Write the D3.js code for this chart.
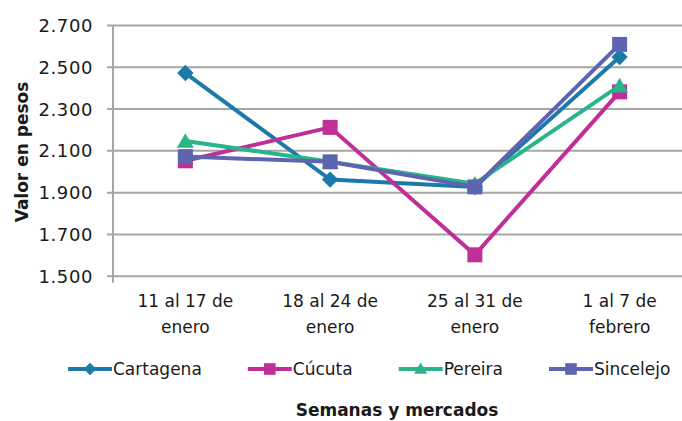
<!DOCTYPE html>
<html>
<head>
<meta charset="utf-8">
<script src="https://cdn.jsdelivr.net/npm/d3@7"></script>
<style>
  html, body { margin: 0; padding: 0; background: #fff; overflow: hidden; }
  svg { display: block; }
  text { font-family: "DejaVu Sans", sans-serif; fill: #1a1a1a; }
</style>
</head>
<body>
<svg id="chart" width="682" height="421"></svg>
<script>
// ---- data ----
const weeks = [["11 al 17 de", "enero"], ["18 al 24 de", "enero"], ["25 al 31 de", "enero"], ["1 al 7 de", "febrero"]];
const cartagena = [2470, 1960, 1925, 2547];
const cucuta = [2050, 2210, 1600, 2380];
const pereira = [2145, 2045, 1940, 2410];
const sincelejo = [2070, 2045, 1925, 2607];
const seriesNames = ["Cartagena", "Cúcuta", "Pereira", "Sincelejo"];
const yTicks = [1500, 1700, 1900, 2100, 2300, 2500, 2700];
const yTitle = "Valor en pesos";
const xTitle = "Semanas y mercados";

const seriesValues = [cartagena, cucuta, pereira, sincelejo];
const colors = ["#1c7aa9", "#bf2f95", "#29b48b", "#5f64b0"];
const shapes = ["diamond", "square", "triangle", "square"];

const svg = d3.select("#chart");
const plot = { left: 113, right: 692, top: 25, bottom: 275.7 };

const weekKeys = weeks.map(w => w.join(" "));
const x = d3.scaleBand().domain(weekKeys).range([plot.left, plot.right]).paddingInner(0).paddingOuter(0);
const xc = k => x(k) + x.bandwidth() / 2;
const y = d3.scaleLinear().domain([1500, 2700]).range([plot.bottom, plot.top]);

const loc = d3.formatLocale({ decimal: ",", thousands: ".", grouping: [3], currency: ["$", ""] });
const fmt = loc.format(",.0f");

const grid = "#a6a6a6";

// gridlines + y axis via d3.axisLeft
const yAxis = d3.axisLeft(y).tickValues(yTicks).tickFormat(fmt)
  .tickSizeInner(-(plot.right - plot.left)).tickSizeOuter(0).tickPadding(20);
const gy = svg.append("g").attr("transform", `translate(${plot.left},0)`).call(yAxis);
gy.select(".domain").remove();
gy.selectAll(".tick line").attr("stroke", grid).attr("stroke-width", 2).attr("x1", -6);
gy.selectAll(".tick text").attr("font-size", 18).attr("letter-spacing", 0.6)
  .attr("font-family", "DejaVu Sans").attr("fill", "#1a1a1a").attr("dy", "0.36em");

// vertical axis line
svg.append("line").attr("x1", plot.left).attr("x2", plot.left)
  .attr("y1", plot.top).attr("y2", plot.bottom + 7).attr("stroke", grid).attr("stroke-width", 2);

// x axis labels
const xAxis = d3.axisBottom(x).tickSize(0).tickFormat(() => "");
const gx = svg.append("g").attr("transform", `translate(0,${plot.bottom})`).call(xAxis);
gx.select(".domain").remove();
gx.selectAll(".tick").each(function (k, i) {
  const t = d3.select(this).select("text").text(null)
    .attr("font-size", 17).attr("font-family", "DejaVu Sans").attr("fill", "#1a1a1a")
    .attr("y", 0).attr("dy", null);
  t.append("tspan").attr("x", 0).attr("y", 31).text(weeks[i][0]);
  t.append("tspan").attr("x", 0).attr("y", 57).text(weeks[i][1]);
});

// axis titles
svg.append("text").attr("transform", `translate(28,152) rotate(-90)`)
  .attr("text-anchor", "middle").attr("font-size", 17).attr("font-weight", "bold").text(yTitle);
svg.append("text").attr("x", 397).attr("y", 416)
  .attr("text-anchor", "middle").attr("font-size", 17).attr("font-weight", "bold").text(xTitle);

function symbolPath(shape, scale) {
  if (shape === "diamond") return d3.symbol(d3.symbolSquare, 135 * scale)();
  if (shape === "triangle") return d3.symbol(d3.symbolTriangle, 125 * scale)();
  return d3.symbol(d3.symbolSquare, 225 * scale)();
}

// lines and markers
const line = d3.line().x(d => xc(d.k)).y(d => y(d.v));
seriesValues.forEach((vals, si) => {
  const pts = vals.map((v, i) => ({ k: weekKeys[i], v }));
  const g = svg.append("g");
  g.append("path").datum(pts).attr("d", line).attr("fill", "none")
    .attr("stroke", colors[si]).attr("stroke-width", 4).attr("stroke-linejoin", "miter");
  g.selectAll("path.m").data(pts).join("path").attr("class", "m")
    .attr("d", symbolPath(shapes[si], 1))
    .attr("transform", d => `translate(${xc(d.k)},${y(d.v) + (shapes[si] === "triangle" ? 2 : 0)})` + (shapes[si] === "diamond" ? " rotate(45)" : ""))
    .attr("fill", colors[si]);
});

// legend
const legend = svg.append("g").attr("transform", "translate(68,369)");
let lx = 0;
seriesNames.forEach((name, si) => {
  const g = legend.append("g").attr("transform", `translate(${lx},0)`);
  g.append("line").attr("x1", 0).attr("x2", 44).attr("y1", 0).attr("y2", 0)
    .attr("stroke", colors[si]).attr("stroke-width", 4);
  g.append("path").attr("d", symbolPath(shapes[si], 0.6))
    .attr("transform", `translate(22,${shapes[si] === "triangle" ? 1 : 0})` + (shapes[si] === "diamond" ? " rotate(45)" : ""))
    .attr("fill", colors[si]);
  const t = g.append("text").attr("x", 45).attr("y", 0).attr("dy", "0.36em")
    .attr("font-size", 17).text(name);
  lx += 45 + t.node().getComputedTextLength() + 46;
});
</script>
</body>
</html>
